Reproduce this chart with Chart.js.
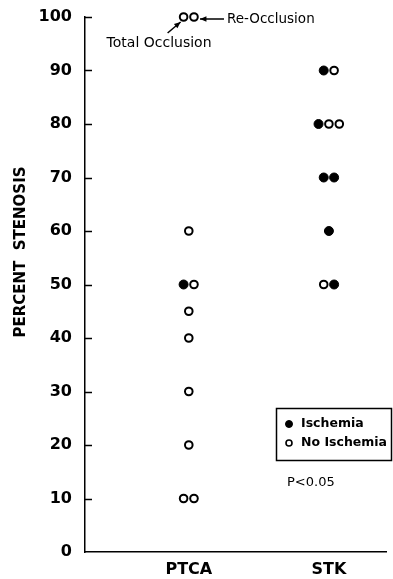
<!DOCTYPE html>
<html>
<head>
<meta charset="utf-8">
<script src="https://cdn.jsdelivr.net/npm/chart.js@4.4.0/dist/chart.umd.min.js"></script>
<style>
  html, body { margin: 0; padding: 0; background: #fff; }
</style>
</head>
<body>
<canvas id="chart" width="393" height="579"></canvas>
<script>
// data
const categories = ['PTCA', 'STK'];
const ptcaValues = [100, 100, 60, 50, 50, 45, 40, 30, 20, 10, 10];
const ptcaIschemia = [0, 0, 0, 1, 0, 0, 0, 0, 0, 0, 0];
const stkValues = [90, 90, 80, 80, 80, 70, 70, 60, 50, 50];
const stkIschemia = [1, 0, 1, 0, 0, 1, 1, 1, 0, 1];
const yTicks = [0, 10, 20, 30, 40, 50, 60, 70, 80, 90, 100];
const seriesNames = ['Ischemia', 'No Ischemia'];
const pText = 'P<0.05';

// where each group sits on the x scale, and side-by-side spread for ties
const groupX = [1, 2.35];
const spread = 0.1;

function buildPoints(values, flags, gi, wanted) {
  const out = [];
  values.forEach((v, i) => {
    const same = values.filter(w => w === v).length;
    const idx = values.slice(0, i).filter(w => w === v).length;
    if (flags[i] === wanted) {
      out.push({ x: groupX[gi] + (idx - (same - 1) / 2) * spread, y: v });
    }
  });
  return out;
}

const ischemiaPts = buildPoints(ptcaValues, ptcaIschemia, 0, 1).concat(buildPoints(stkValues, stkIschemia, 1, 1));
const noIschemiaPts = buildPoints(ptcaValues, ptcaIschemia, 0, 0).concat(buildPoints(stkValues, stkIschemia, 1, 0));

const fontFam = '"DejaVu Sans", sans-serif';

// extras: inward ticks, notes, legend box, p value, y title
const extras = {
  id: 'extras',
  afterDraw(chart) {
    const ctx = chart.ctx;
    const xs = chart.scales.x, ys = chart.scales.y;
    const left = chart.chartArea.left;
    ctx.save();
    ctx.strokeStyle = '#000';
    ctx.fillStyle = '#000';

    // inward tick marks
    ctx.lineWidth = 1.5;
    yTicks.forEach(t => {
      if (t === 0) return;
      const py = Math.round(ys.getPixelForValue(t)) + 0.5;
      ctx.beginPath();
      ctx.moveTo(left, py);
      ctx.lineTo(left + 7, py);
      ctx.stroke();
    });

    // notes on the two 100% points
    const topY = ys.getPixelForValue(100);
    const lx = xs.getPixelForValue(groupX[0] - spread / 2);
    const rx = xs.getPixelForValue(groupX[0] + spread / 2);
    ctx.textBaseline = 'middle';
    ctx.textAlign = 'left';
    ctx.font = '13.5px ' + fontFam;
    ctx.fillText('Re-Occlusion', rx + 33, topY + 2);
    arrow(ctx, rx + 30, topY + 2, rx + 6, topY + 2);
    ctx.font = '14px ' + fontFam;
    ctx.fillText('Total Occlusion', lx - 77, topY + 26);
    arrow(ctx, lx - 16, topY + 16, lx - 3, topY + 5);

    // legend box
    ctx.lineWidth = 1.5;
    ctx.strokeRect(276.5, 408.5, 115, 52);
    const ds = chart.data.datasets;
    ctx.font = 'bold 12.5px ' + fontFam;
    ds.forEach((d, i) => {
      const yy = 424 + i * 19;
      ctx.beginPath();
      ctx.arc(289, yy, i === 0 ? 3.5 : 3, 0, Math.PI * 2);
      ctx.fillStyle = d.backgroundColor;
      ctx.fill();
      ctx.lineWidth = i === 0 ? 1 : 1.6;
      ctx.stroke();
      ctx.fillStyle = '#000';
      ctx.fillText(d.label, 301, yy);
    });

    // p value
    ctx.font = '13px ' + fontFam;
    ctx.fillText(pText, 287, 483);

    // y title
    ctx.translate(21, 252);
    ctx.rotate(-Math.PI / 2);
    ctx.textAlign = 'center';
    ctx.font = 'bold 15px ' + fontFam;
    ctx.fillText('PERCENT  STENOSIS', 0, 0);
    ctx.restore();
  }
};

function arrow(ctx, x0, y0, x1, y1) {
  const a = Math.atan2(y1 - y0, x1 - x0);
  ctx.lineWidth = 1.5;
  ctx.beginPath();
  ctx.moveTo(x0, y0);
  ctx.lineTo(x1, y1);
  ctx.stroke();
  ctx.beginPath();
  ctx.moveTo(x1, y1);
  ctx.lineTo(x1 - 7 * Math.cos(a - 0.4), y1 - 7 * Math.sin(a - 0.4));
  ctx.lineTo(x1 - 7 * Math.cos(a + 0.4), y1 - 7 * Math.sin(a + 0.4));
  ctx.closePath();
  ctx.fill();
}

new Chart(document.getElementById('chart'), {
  type: 'scatter',
  data: {
    datasets: [
      {
        label: seriesNames[0],
        data: ischemiaPts,
        pointRadius: 4.5,
        backgroundColor: '#000',
        borderColor: '#000',
        borderWidth: 1,
        clip: false
      },
      {
        label: seriesNames[1],
        data: noIschemiaPts,
        pointRadius: 3.8,
        backgroundColor: '#fff',
        borderColor: '#000',
        borderWidth: 2,
        clip: false
      }
    ]
  },
  options: {
    responsive: false,
    animation: false,
    layout: { autoPadding: false, padding: { top: 17, right: 7, left: 0, bottom: 0 } },
    plugins: { legend: { display: false }, tooltip: { enabled: false } },
    scales: {
      x: {
        type: 'linear',
        min: 0,
        max: 2.9,
        afterFit: s => { s.height = 27; s.paddingLeft = 0; s.paddingRight = 0; },
        afterBuildTicks: s => { s.ticks = groupX.map(v => ({ value: v })); },
        grid: { display: false, drawTicks: false },
        border: { display: true, color: '#000', width: 1.5 },
        ticks: {
          color: '#000',
          padding: 8,
          font: { family: fontFam, size: 16, weight: 'bold' },
          callback: (v) => categories[groupX.indexOf(v)]
        }
      },
      y: {
        min: 0,
        max: 100,
        afterFit: s => { s.width = 85; s.paddingTop = 0; s.paddingBottom = 0; },
        afterBuildTicks: s => { s.ticks = yTicks.map(v => ({ value: v })); },
        grid: { display: false, drawTicks: false },
        border: { display: true, color: '#000', width: 1.5 },
        ticks: {
          color: '#000',
          padding: 13,
          font: { family: fontFam, size: 16, weight: 'bold' }
        }
      }
    }
  },
  plugins: [extras]
});
</script>
</body>
</html>
